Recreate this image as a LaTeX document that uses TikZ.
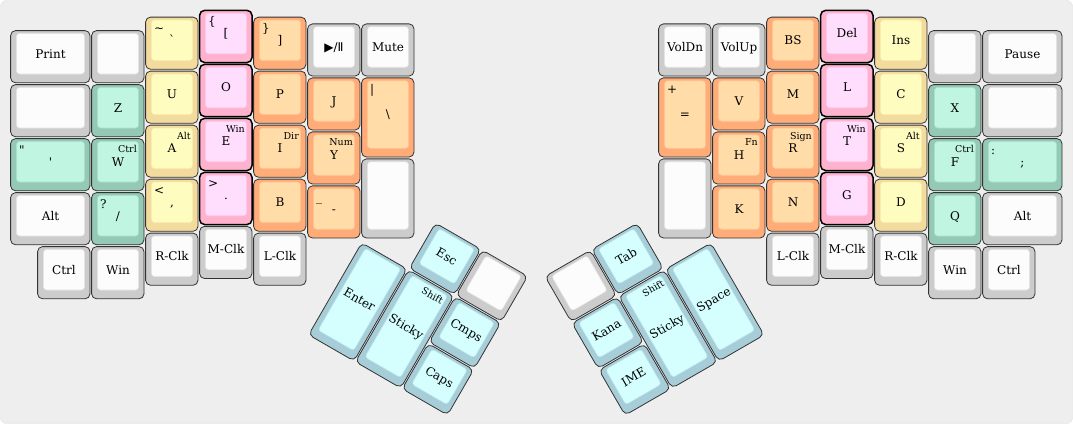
\documentclass[tikz,border=0pt]{standalone}
\usepackage{fontspec}
\setmainfont{DejaVu Serif}[Ligatures=TeXOff]
\newfontfamily\symfont{DejaVu Sans}

\definecolor{bgfill}{HTML}{EEEEEE}
\definecolor{bgline}{HTML}{DDDDDD}
\definecolor{grayrim}{HTML}{CCCCCC}
\definecolor{grayface}{HTML}{FCFCFC}
\definecolor{tealrim}{HTML}{93C9B5}
\definecolor{tealface}{HTML}{C0F5E1}
\definecolor{yellowrim}{HTML}{F2DB9C}
\definecolor{yellowface}{HTML}{FFFCC0}
\definecolor{pinkrim}{HTML}{FFB2CE}
\definecolor{pinkface}{HTML}{FFDDFD}
\definecolor{orangerim}{HTML}{FFAC78}
\definecolor{orangeface}{HTML}{FFDCA8}
\definecolor{bluerim}{HTML}{A7CED8}
\definecolor{blueface}{HTML}{D5FFFF}

% one key: colour, x, y, width, height (in keys), name, legend
\newcommand{\kcap}[7]{%
  \draw[#1key] (#2+0.6,#3+0.6) rectangle (#2+#4*54-1,#3+#5*54-1.2);
  \draw[#1cap] (#2+6.5,#3+3.5) rectangle (#2+#4*54-6.5,#3+#5*54-10);
  \coordinate (#6 tl) at (#2+9,#3+16);
  \coordinate (#6 tr) at (#2+#4*54-8,#3+14.5);
  \node[legend] (#6) at (#2+#4*27,#3+#5*27-3.25) {#7};
}

\begin{document}
\begin{tikzpicture}[x=1pt,y=-1pt]
\tikzstyle{graykey}=[fill=grayrim,draw=black!80,line width=0.8pt,rounded corners=5pt]
\tikzstyle{graycap}=[fill=grayface,draw=grayrim!50!grayface,line width=0.6pt,rounded corners=3pt]
\tikzstyle{tealkey}=[fill=tealrim,draw=black!80,line width=0.8pt,rounded corners=5pt]
\tikzstyle{tealcap}=[fill=tealface,draw=tealrim!50!tealface,line width=0.6pt,rounded corners=3pt]
\tikzstyle{yellowkey}=[fill=yellowrim,draw=black!80,line width=0.8pt,rounded corners=5pt]
\tikzstyle{yellowcap}=[fill=yellowface,draw=yellowrim!50!yellowface,line width=0.6pt,rounded corners=3pt]
\tikzstyle{pinkkey}=[fill=pinkrim,draw=black,line width=1.5pt,rounded corners=5pt]
\tikzstyle{pinkcap}=[fill=pinkface,draw=pinkrim!50!pinkface,line width=0.6pt,rounded corners=3pt]
\tikzstyle{orangekey}=[fill=orangerim,draw=black!80,line width=0.8pt,rounded corners=5pt]
\tikzstyle{orangecap}=[fill=orangeface,draw=orangerim!50!orangeface,line width=0.6pt,rounded corners=3pt]
\tikzstyle{bluekey}=[fill=bluerim,draw=black!80,line width=0.8pt,rounded corners=5pt]
\tikzstyle{bluecap}=[fill=blueface,draw=bluerim!50!blueface,line width=0.6pt,rounded corners=3pt]
\tikzstyle{legend}=[inner sep=0pt,text height=8.8pt,text depth=0pt,font=\fontsize{12}{12}\selectfont]
\tikzstyle{tlleg}=[anchor=base west,inner sep=0pt,font=\fontsize{12}{12}\selectfont]
\tikzstyle{trleg}=[anchor=base east,inner sep=0pt,font=\fontsize{9.5}{10}\selectfont]

\useasboundingbox (0,0) rectangle (1073,424);
\draw[fill=bgfill,draw=bgline,rounded corners=6pt] (0.5,0.5) rectangle (1072.5,423.5);

% left hand
\kcap{gray}{10}{30}{1.5}{1}{print}{Print}
\kcap{gray}{10}{84}{1.5}{1}{lblank1}{}
\kcap{teal}{10}{138}{1.5}{1}{quote}{'}
\kcap{gray}{10}{192}{1.5}{1}{lalt}{Alt}
\kcap{gray}{37}{246}{1}{1}{lctrl}{Ctrl}
\kcap{gray}{91}{30}{1}{1}{lblank2}{}
\kcap{teal}{91}{84}{1}{1}{z}{Z}
\kcap{teal}{91}{138}{1}{1}{w}{W}
\kcap{teal}{91}{192}{1}{1}{slash}{/}
\kcap{gray}{91}{246}{1}{1}{lwin}{Win}
\kcap{yellow}{145}{16.5}{1}{1}{grave}{\symbol{96}}
\kcap{yellow}{145}{70.5}{1}{1}{u}{U}
\kcap{yellow}{145}{124.5}{1}{1}{a}{A}
\kcap{yellow}{145}{178.5}{1}{1}{comma}{,}
\kcap{gray}{145}{232.5}{1}{1}{lrclk}{R-Clk}
\kcap{pink}{199}{9.75}{1}{1}{lbrack}{[}
\kcap{pink}{199}{63.75}{1}{1}{o}{O}
\kcap{pink}{199}{117.75}{1}{1}{e}{E}
\kcap{pink}{199}{171.75}{1}{1}{period}{.}
\kcap{gray}{199}{225.75}{1}{1}{lmclk}{M-Clk}
\kcap{orange}{253}{16.5}{1}{1}{rbrack}{]}
\kcap{orange}{253}{70.5}{1}{1}{p}{P}
\kcap{orange}{253}{124.5}{1}{1}{i}{I}
\kcap{orange}{253}{178.5}{1}{1}{b}{B}
\kcap{gray}{253}{232.5}{1}{1}{llclk}{L-Clk}
\kcap{gray}{307}{23.25}{1}{1}{play}{{\symfont ▶/Ⅱ}}
\kcap{orange}{307}{77.25}{1}{1}{j}{J}
\kcap{orange}{307}{131.25}{1}{1}{y}{Y}
\kcap{orange}{307}{185.25}{1}{1}{minus}{-}
\kcap{gray}{361}{23.25}{1}{1}{mute}{Mute}
\kcap{orange}{361}{77.25}{1}{1.5}{bslash}{\textbackslash}
\kcap{gray}{361}{158.25}{1}{1.5}{lblank3}{}

\node[tlleg] (dquote) at (quote tl) {"};
\node[tlleg] (question) at (slash tl) {?};
\node[tlleg] (tilde) at (grave tl) {\textasciitilde};
\node[tlleg] (less) at (comma tl) {<};
\node[tlleg] (lbrace) at (lbrack tl) {\{};
\node[tlleg] (greater) at (period tl) {>};
\node[tlleg] (rbrace) at (rbrack tl) {\}};
\node[tlleg] (under) at (minus tl) {\_};
\node[tlleg] (pipe) at (bslash tl) {|};
\node[trleg] (wctrl) at (w tr) {Ctrl};
\node[trleg] (aalt) at (a tr) {Alt};
\node[trleg] (ewin) at (e tr) {Win};
\node[trleg] (idir) at (i tr) {Dir};
\node[trleg] (ynum) at (y tr) {Num};

% left thumb
\begin{scope}[shift={(361.5,242)},rotate=-30,transform shape]
\kcap{blue}{0}{0}{1}{2}{lenter}{Enter}
\kcap{blue}{54}{0}{1}{2}{lsticky}{Sticky}
\kcap{blue}{54}{-54}{1}{1}{esc}{Esc}
\kcap{gray}{108}{-54}{1}{1}{lblank4}{}
\kcap{blue}{108}{0}{1}{1}{cmps}{Cmps}
\kcap{blue}{108}{54}{1}{1}{caps}{Caps}
\node[trleg] (lshift) at (lsticky tr) {Shift};
\end{scope}

% right hand
\kcap{gray}{658}{23.25}{1}{1}{voldn}{VolDn}
\kcap{orange}{658}{77.25}{1}{1.5}{equal}{=}
\kcap{gray}{658}{158.25}{1}{1.5}{rblank3}{}
\kcap{gray}{712}{23.25}{1}{1}{volup}{VolUp}
\kcap{orange}{712}{77.25}{1}{1}{v}{V}
\kcap{orange}{712}{131.25}{1}{1}{h}{H}
\kcap{orange}{712}{185.25}{1}{1}{k}{K}
\kcap{orange}{766}{16.5}{1}{1}{bs}{BS}
\kcap{orange}{766}{70.5}{1}{1}{m}{M}
\kcap{orange}{766}{124.5}{1}{1}{r}{R}
\kcap{orange}{766}{178.5}{1}{1}{n}{N}
\kcap{gray}{766}{232.5}{1}{1}{rlclk}{L-Clk}
\kcap{pink}{820}{9.75}{1}{1}{del}{Del}
\kcap{pink}{820}{63.75}{1}{1}{l}{L}
\kcap{pink}{820}{117.75}{1}{1}{t}{T}
\kcap{pink}{820}{171.75}{1}{1}{g}{G}
\kcap{gray}{820}{225.75}{1}{1}{rmclk}{M-Clk}
\kcap{yellow}{874}{16.5}{1}{1}{ins}{Ins}
\kcap{yellow}{874}{70.5}{1}{1}{c}{C}
\kcap{yellow}{874}{124.5}{1}{1}{s}{S}
\kcap{yellow}{874}{178.5}{1}{1}{d}{D}
\kcap{gray}{874}{232.5}{1}{1}{rrclk}{R-Clk}
\kcap{gray}{928}{30}{1}{1}{rblank2}{}
\kcap{teal}{928}{84}{1}{1}{x}{X}
\kcap{teal}{928}{138}{1}{1}{f}{F}
\kcap{teal}{928}{192}{1}{1}{q}{Q}
\kcap{gray}{928}{246}{1}{1}{rwin}{Win}
\kcap{gray}{982}{30}{1.5}{1}{pause}{Pause}
\kcap{gray}{982}{84}{1.5}{1}{rblank1}{}
\kcap{teal}{982}{138}{1.5}{1}{semi}{;}
\kcap{gray}{982}{192}{1.5}{1}{ralt}{Alt}
\kcap{gray}{982}{246}{1}{1}{rctrl}{Ctrl}

\node[tlleg] (plus) at (equal tl) {+};
\node[tlleg] (colon) at (semi tl) {:};
\node[trleg] (hfn) at (h tr) {Fn};
\node[trleg] (rsign) at (r tr) {Sign};
\node[trleg] (twin) at (t tr) {Win};
\node[trleg] (salt) at (s tr) {Alt};
\node[trleg] (fctrl) at (f tr) {Ctrl};

% right thumb
\begin{scope}[shift={(711.5,242)},rotate=30,transform shape]
\kcap{blue}{-54}{0}{1}{2}{space}{Space}
\kcap{blue}{-108}{0}{1}{2}{rsticky}{Sticky}
\kcap{blue}{-108}{-54}{1}{1}{tab}{Tab}
\kcap{gray}{-162}{-54}{1}{1}{rblank4}{}
\kcap{blue}{-162}{0}{1}{1}{kana}{Kana}
\kcap{blue}{-162}{54}{1}{1}{ime}{IME}
\node[trleg] (rshift) at (rsticky tr) {Shift};
\end{scope}
\end{tikzpicture}
\end{document}
